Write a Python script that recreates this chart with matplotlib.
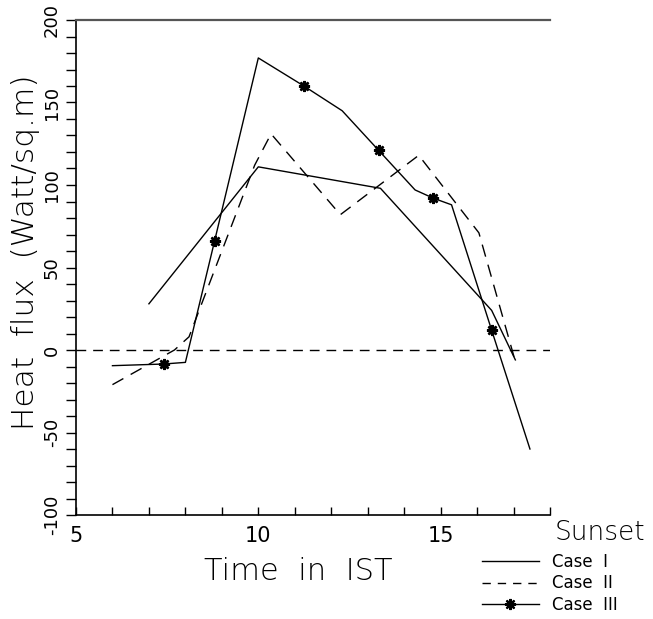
import matplotlib
matplotlib.use("Agg")
import matplotlib.pyplot as plt
from matplotlib.ticker import MultipleLocator, FixedLocator, FixedFormatter
from matplotlib.lines import Line2D

# Data
case1_x = [7.0, 10.0, 13.35, 16.4, 17.05]
case1_y = [28, 111, 98, 24, -6]

case2_x = [6.0, 7.7, 8.1, 9.9, 10.35, 12.25, 14.4, 16.05, 17.05]
case2_y = [-21, 0, 8, 112, 131, 82, 118, 71, -7]

case3_x = [6.0, 7.4, 8.0, 8.8, 10.0, 11.25, 12.3, 13.3, 14.3, 14.8, 15.3, 16.4, 17.45]
case3_y = [-9.5, -8.5, -7.5, 66, 177, 160, 145, 121, 97, 92, 88, 12, -60]
case3_marks = [1, 3, 5, 7, 9, 11]

xticks_major = [5, 10, 15]
yticks_major = [-100, -50, 0, 50, 100, 150, 200]
ytick_labels = ["-100", "-50", "0", "50", "100", "150", "200"]
legend_labels = ["Case  I", "Case  II", "Case  III"]

fig = plt.figure(figsize=(6.53, 6.19), dpi=100)
ax = fig.add_axes([76/653, 1-515/619, (550-76)/653, (515-20)/619])

ax.set_xlim(5, 18)
ax.set_ylim(-100, 200)

# zero reference line
ax.axhline(0, color="black", lw=1.0, dashes=(7, 5))

ax.plot(case1_x, case1_y, color="black", lw=1.0)
ax.plot(case2_x, case2_y, color="black", lw=1.0, dashes=(9, 6))
ax.plot(case3_x, case3_y, color="black", lw=1.0, marker=(8, 2, 0),
        markevery=case3_marks, markersize=8, markeredgewidth=1.8)

ax.spines["right"].set_visible(False)
ax.spines["top"].set_color("#555555")
ax.spines["top"].set_linewidth(1.6)
for s in ["left", "bottom"]:
    ax.spines[s].set_linewidth(1.2)

ax.xaxis.set_major_locator(FixedLocator(xticks_major))
ax.xaxis.set_minor_locator(MultipleLocator(1))
ax.tick_params(axis="x", which="both", direction="in", length=6, width=1, top=False,
               labelsize=15, pad=8)
ax.yaxis.set_major_locator(FixedLocator(yticks_major))
ax.yaxis.set_major_formatter(FixedFormatter(ytick_labels))
ax.yaxis.set_minor_locator(MultipleLocator(10))
ax.tick_params(axis="y", which="both", direction="out", length=7, width=1, right=False,
               labelsize=13, labelrotation=90, pad=4)
for lab in ax.get_yticklabels():
    lab.set_verticalalignment("center")

ax.set_xlabel("Time  in  IST", fontsize=22, labelpad=2, fontweight="light")
ax.xaxis.set_label_coords((298 - 76) / 474, -0.085)
ax.set_ylabel("Heat  flux  (Watt/sq.m)", fontsize=22.5, labelpad=4, fontweight="light")
ax.yaxis.set_label_coords(-0.077, (515 - 252) / 495)

fig.text(645/653, 1-533/619, "Sunset", fontsize=19, ha="right", va="center", fontweight="light")

handles = [
    Line2D([], [], color="black", lw=1.0),
    Line2D([], [], color="black", lw=1.0, dashes=(6, 5)),
    Line2D([], [], color="black", lw=1.0, marker=(8, 2, 0), markersize=8, markeredgewidth=1.6),
]
leg = fig.legend(handles, legend_labels, loc="upper left",
                 bbox_to_anchor=(482/653, 1-553/619), frameon=False, fontsize=12,
                 handlelength=3.4, handletextpad=0.8, labelspacing=0.2,
                 borderpad=0, borderaxespad=0)

fig.savefig("out.png", dpi=100)
